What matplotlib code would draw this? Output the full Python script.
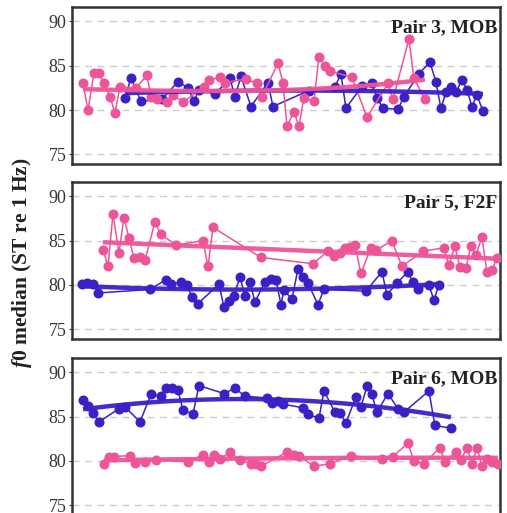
import numpy as np
import matplotlib
matplotlib.use("Agg")
import matplotlib.pyplot as plt

plt.rcParams["font.family"] = ["Liberation Serif", "DejaVu Serif"]
plt.rcParams["mathtext.fontset"] = "custom"
plt.rcParams["mathtext.it"] = "Liberation Serif:italic:bold"
plt.rcParams["mathtext.rm"] = "Liberation Serif:bold"

BLUE = "#3d1fc6"
PINK = "#ee5599"

# Pair 3, MOB
p3_blue_t = [53, 59, 69, 90, 106, 116, 122, 127, 143, 158, 163, 169, 179, 196, 201,
             237, 263, 269, 274, 290, 300, 305, 311, 326, 332, 347, 358, 364, 369,
             374, 379, 384, 390, 395, 400, 405, 411]
p3_blue_f0 = [81.4, 83.6, 81.0, 81.2, 83.2, 82.5, 81.0, 82.3, 81.8, 83.6, 81.5, 83.8,
              80.4, 83.1, 80.4, 82.2, 82.6, 84.1, 80.2, 82.7, 83.0, 81.4, 80.2, 80.1,
              81.5, 84.1, 85.4, 83.2, 80.2, 82.0, 82.6, 82.0, 83.4, 82.3, 80.4, 81.7, 79.9]
p3_pink_t = [11, 16, 22, 27, 32, 38, 43, 48, 64, 75, 79, 85, 95, 101, 111, 132, 137,
             148, 153, 174, 185, 190, 206, 211, 215, 222, 227, 232, 242, 247, 253, 258,
             280, 295, 316, 321, 337, 342, 353]
p3_pink_f0 = [83.0, 80.0, 84.2, 84.2, 83.0, 81.5, 79.7, 82.6, 82.5, 83.9, 81.5, 81.2,
              80.9, 81.7, 80.9, 82.6, 83.4, 83.7, 83.1, 83.5, 83.0, 81.5, 85.3, 83.1,
              78.2, 79.8, 78.2, 81.4, 81.0, 86.0, 85.0, 84.4, 83.7, 79.2, 83.0, 81.2,
              88.0, 83.6, 81.2]

# Pair 5, F2F
p5_blue_t = [10, 15, 21, 26, 78, 94, 99, 109, 115, 120, 126, 147, 152, 157, 162, 168,
             173, 178, 183, 193, 199, 204, 209, 212, 220, 226, 231, 236, 246, 252, 294,
             310, 315, 325, 336, 341, 346, 357, 362, 367]
p5_blue_f0 = [80.1, 80.2, 80.1, 79.1, 79.5, 80.6, 80.1, 80.3, 80.0, 78.6, 77.9, 80.1,
              77.5, 78.2, 78.8, 80.9, 78.8, 80.3, 78.1, 80.3, 80.7, 80.6, 77.8, 79.4,
              78.4, 81.8, 80.9, 80.2, 77.8, 79.5, 79.3, 81.5, 78.9, 80.2, 81.5, 80.3,
              79.6, 80.0, 78.3, 80.0]
p5_pink_t = [31, 36, 41, 47, 52, 57, 62, 68, 73, 83, 89, 104, 131, 136, 141, 189, 241,
             256, 262, 268, 273, 278, 283, 289, 299, 304, 320, 330, 351, 372, 377, 383,
             388, 394, 399, 404, 410, 415, 420, 425]
p5_pink_f0 = [84.0, 82.1, 88.0, 83.6, 87.6, 85.3, 83.0, 83.1, 82.8, 87.1, 85.7, 84.5,
              85.0, 82.1, 86.5, 83.1, 82.4, 83.8, 83.3, 83.6, 84.2, 84.3, 84.5, 81.3,
              84.2, 83.9, 85.0, 82.1, 83.8, 84.2, 82.2, 84.4, 82.0, 81.9, 84.4, 83.4,
              85.4, 81.5, 81.7, 83.0]

# Pair 6, MOB
p6_blue_t = [11, 16, 21, 27, 47, 53, 68, 79, 89, 94, 100, 106, 111, 121, 127, 152, 163,
             173, 195, 200, 206, 211, 231, 236, 247, 252, 263, 268, 274, 284, 289, 295,
             300, 305, 316, 326, 332, 357, 363, 379]
p6_blue_f0 = [86.9, 86.2, 85.4, 84.4, 85.9, 86.1, 84.4, 87.5, 87.3, 88.2, 88.2, 88.0,
              85.7, 85.3, 88.5, 87.6, 88.2, 87.3, 87.1, 86.5, 86.8, 86.4, 86.0, 85.3,
              84.8, 87.9, 85.5, 85.4, 84.3, 87.2, 86.1, 88.4, 87.5, 85.5, 87.6, 85.9,
              85.5, 87.9, 84.0, 83.7]
p6_pink_t = [32, 37, 42, 58, 63, 73, 84, 116, 131, 137, 142, 148, 158, 168, 179, 184,
             189, 215, 222, 227, 242, 258, 279, 310, 321, 336, 342, 352, 368, 373, 384,
             389, 395, 400, 405, 410, 415, 420, 426]
p6_pink_f0 = [79.6, 80.5, 80.5, 80.6, 79.8, 79.9, 80.1, 79.9, 80.7, 79.9, 80.7, 80.2,
              81.0, 80.1, 79.7, 79.7, 79.4, 81.0, 80.7, 80.6, 79.4, 79.7, 80.6, 80.2,
              80.5, 82.0, 80.0, 79.7, 81.5, 79.9, 81.0, 80.1, 81.5, 79.6, 81.5, 79.4,
              80.2, 79.9, 79.7]

panels = [
    ("Pair 3, MOB", (p3_blue_t, p3_blue_f0, 2), (p3_pink_t, p3_pink_f0, 3)),
    ("Pair 5, F2F", (p5_blue_t, p5_blue_f0, 2), (p5_pink_t, p5_pink_f0, 1)),
    ("Pair 6, MOB", (p6_blue_t, p6_blue_f0, 2), (p6_pink_t, p6_pink_f0, 2)),
]

fig = plt.figure(figsize=(5.07, 5.13), dpi=100)
bottoms = [0.680, 0.339, -0.004]

for (title, blue, pink), b in zip(panels, bottoms):
    ax = fig.add_axes([0.142, b, 0.844, 0.306])
    for (t, f0, deg), col in [(blue, BLUE), (pink, PINK)]:
        t = np.array(t, dtype=float)
        f0 = np.array(f0)
        ax.plot(t, f0, "-o", color=col, lw=1.1, ms=6.2, zorder=3)
        # smooth trend (polynomial fit)
        coef = np.polyfit(t, f0, deg)
        tt = np.linspace(t.min(), t.max(), 100)
        ax.plot(tt, np.polyval(coef, tt), color=col, lw=3.2, alpha=0.95,
                solid_capstyle="butt", zorder=4)
    ax.set_xlim(0, 428)
    ax.set_ylim(73.9, 91.6)
    ax.set_yticks([75, 80, 85, 90])
    ax.set_xticks([])
    ax.yaxis.grid(True, ls=(0, (5, 4)), color="#cccccc", lw=1)
    ax.set_axisbelow(True)
    ax.tick_params(axis="y", labelsize=13, length=2, pad=2, color="#333333",
                   labelcolor="#333333")
    for s in ax.spines.values():
        s.set_linewidth(1.8)
        s.set_color("#333333")
    ax.text(0.994, 0.925, title, transform=ax.transAxes, ha="right", va="top",
            fontsize=14, fontweight="bold", color="#222222")

fig.text(0.043, 0.488, r"$\mathit{f0}$ median (ST re 1 Hz)", rotation=90,
         ha="center", va="center", fontsize=15.5, fontweight="bold", color="#222222")

fig.savefig("out.png", dpi=100)
